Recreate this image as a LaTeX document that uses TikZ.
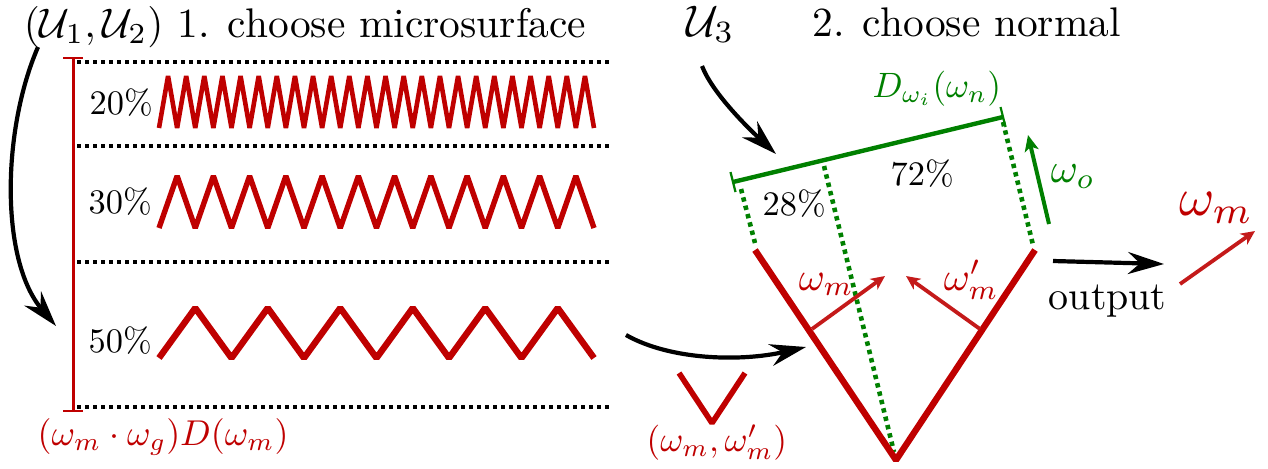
\documentclass[tikz,border=0pt]{standalone}
\usepackage{amsmath,amssymb}
\usepackage{xcolor}
\usetikzlibrary{
    arrows.meta,
    positioning,
    calc
}
\definecolor{msRed}{HTML}{BF0000}
\definecolor{msLightRed}{HTML}{C41A1A}
\definecolor{msGreen}{HTML}{008000}
\tikzset{
    msText/.style={anchor=base west,inner sep=0pt,scale=2.07},
    msPct/.style={anchor=base west,inner sep=0pt,scale=1.72},
    msRedLabel/.style={anchor=base west,inner sep=0pt,text=msRed,scale=1.76},
    msGreenLabel/.style={anchor=base west,inner sep=0pt,text=msGreen,scale=1.76},
    msLevel/.style={draw=black,line width=1.9pt,dash pattern=on 2pt off 2pt},
    msZig/.style={draw=msRed,line join=bevel},
    msArrow/.style={-{Stealth[length=18pt,width=11pt,inset=6pt]},line width=2.1pt,draw=black},
    msNormal/.style={-{Stealth[length=7pt,width=6.5pt,inset=2pt]},line width=1.9pt,draw=msLightRed},
    msGuide/.style={draw=msGreen,line width=2.3pt,dash pattern=on 2.2pt off 2.1pt},
    msWall/.style={draw=msRed,line width=3.2pt,line join=bevel}
}
\begin{document}
\begin{tikzpicture}[x=0.5pt,y=-0.5pt]
        \useasboundingbox (0,0) rectangle (1268,468);

        % titles
        \node[msText] (rand12) at (23,37) {$(\mathcal{U}_1,\mathcal{U}_2)$};
        \node[msText] (title1) at (177,37) {1.\ \kern1pt choose microsurface};
        \node[msText,scale=1.07] (rand3) at (686,36) {$\mathcal{U}_3$};
        \node[msText] (title2) at (812,36.5) {2.\ \kern1pt choose normal};

        % microsurface levels
        \foreach \y/\name in {62/a,146/b,262/c,407/d}
            \draw[msLevel] (77,\y) -- (612,\y);
        \draw[msRed,line width=1.8pt] (73.5,58) -- (73.5,411);
        \draw[msRed,line width=1.4pt] (63,58) -- (83,58);
        \draw[msRed,line width=1.4pt] (63,411) -- (83,411);

        \node[msPct] (pctA) at (89,114) {20\%};
        \node[msPct] (pctB) at (88,213) {30\%};
        \node[msPct] (pctC) at (88,352) {50\%};

        \draw[msZig,line width=2.3pt] (159,128)
            \foreach \i in {1,...,24} { -- ++(9.0625,-52) -- ++(9.0625,52) };
        \draw[msZig,line width=2.7pt] (159,228)
            \foreach \i in {1,...,12} { -- ++(18.125,-52) -- ++(18.125,52) };
        \draw[msZig,line width=3.2pt] (159,358)
            \foreach \i in {1,...,6} { -- ++(36.25,-50) -- ++(36.25,50) };

        \node[msRedLabel,scale=1.02] (area) at (37,445) {$(\omega_m\cdot\omega_g)D(\omega_m)$};

        % chosen pair
        \draw[msZig,line width=2.8pt] (679,373) -- (712,423) -- (745,373);
        \node[msRedLabel] (pair) at (646,451) {$(\omega_m,\omega_m')$};

        % projected area
        \coordinate (barL) at (733,182);
        \coordinate (barR) at (1003,117);
        \coordinate (barM) at (824,160);
        \draw[msGreen,line width=2.2pt] (barL) -- (barR);
        \draw[msGreen,line width=1.1pt] ($(barL)+(-2.5,-10)$) -- ($(barL)+(2.5,10)$);
        \draw[msGreen,line width=1.1pt] ($(barR)+(-2.5,-10)$) -- ($(barR)+(2.5,10)$);
        \node[msGreenLabel] (projlab) at (872,97) {$D_{\omega_i}(\omega_n)$};
        \node[msPct] (pctL) at (762,215) {28\%};
        \node[msPct] (pctR) at (890,185) {72\%};

        \coordinate (vL) at (755,250);
        \coordinate (vB) at (896,460);
        \coordinate (vR) at (1035,250);
        \draw[msGuide] (741,189) -- (755,243);
        \draw[msGuide] (1003,122) -- (1033,245);
        \draw[msGuide] (824,166) -- (894,452);
        \draw[msWall] (vL) -- (vB) -- (vR);

        % normals
        \coordinate (nLs) at (812,329);
        \coordinate (nLe) at (885,276);
        \coordinate (nRs) at (980,329);
        \coordinate (nRe) at (906,276);
        \draw[msNormal] (nLs) -- (nLe);
        \draw[msNormal] (nRs) -- (nRe);
        \node[msRedLabel,scale=1.13] (nLab) at (798,290) {$\omega_m$};
        \node[msRedLabel,scale=1.13] (nLabP) at (943,290) {$\omega_m'$};

        % view direction
        \coordinate (viewA) at (1049,224);
        \coordinate (viewB) at (1028,135);
        \draw[msGreen,line width=2pt,-{Stealth[length=8pt,width=7pt,inset=2pt]}] (viewA) -- (viewB);
        \node[msText,text=msGreen] (viewLab) at (1050,182) {$\omega_o$};

        % output
        \coordinate (outA) at (1053,261);
        \coordinate (outB) at (1164,264);
        \draw[msArrow] (outA) -- (outB);
        \node[msText,scale=0.965] (outlab) at (1048,309) {output};
        \coordinate (resA) at (1180,284);
        \coordinate (resB) at (1255,231);
        \draw[msNormal] (resA) -- (resB);
        \node[msText,text=msRed,scale=1.3] (resLab) at (1178,215) {$\omega_m$};

        % sampling arrows
        \coordinate (arrA) at (38,47);
        \coordinate (arrB) at (56,326);
        \draw[msArrow] (arrA) .. controls (2,130) and (0,260) .. (arrB);
        \coordinate (arrC) at (702,66);
        \coordinate (arrD) at (776,154);
        \draw[msArrow] (arrC) .. controls (712,92) and (745,125) .. (arrD);
        \coordinate (arrE) at (626,335);
        \coordinate (arrF) at (806,347);
        \draw[msArrow] (arrE) .. controls (670,360) and (740,362) .. (arrF);
    \end{tikzpicture}
\end{document}
